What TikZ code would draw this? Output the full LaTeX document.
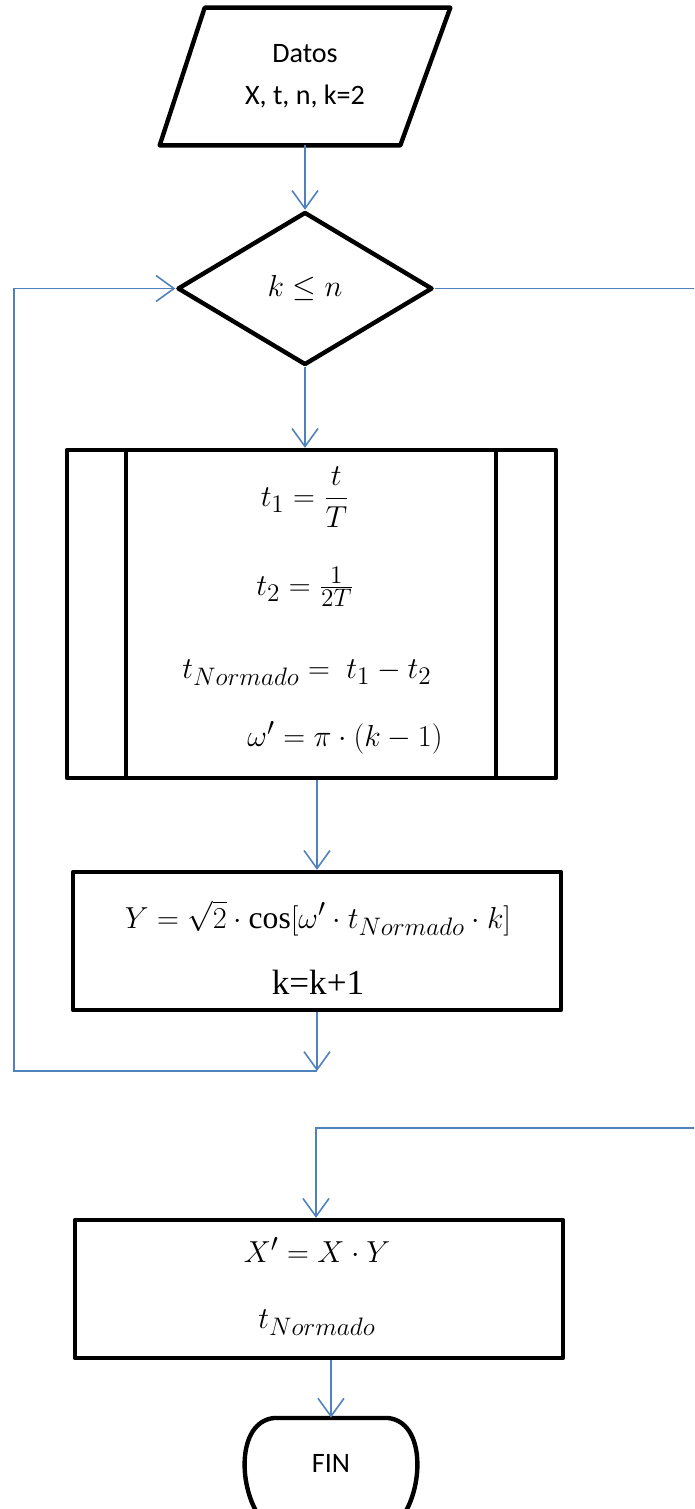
\documentclass[tikz,border=0pt]{standalone}
\usepackage{amsmath}
\usepackage[no-math]{fontspec}
\setmainfont{Liberation Serif}
\newfontfamily\calib{Carlito}
\DeclareMathSizes{18}{18}{14.5}{11}
\usetikzlibrary{shapes.geometric,arrows.meta,calc}
\definecolor{lineblue}{RGB}{79,129,189}
\begin{document}
\begin{tikzpicture}[x=0.02cm,y=-0.02cm,
  shapeline/.style={draw=black,line width=2.5pt,line join=round},
  conn/.style={draw=lineblue,line width=0.9pt},
  arr/.style={conn,-{Straight Barb[length=3.6mm,width=5.2mm,line width=0.9pt]}},
  mathtxt/.style={font=\fontsize{18}{22}\selectfont},
  plain/.style={font=\calib\fontsize{16}{19}\selectfont,align=center}]
\useasboundingbox (0,0) rectangle (694,1509);
\clip (0,0) rectangle (694,1509);
% input
\node[minimum width=5.8cm,minimum height=2.74cm,inner sep=0,plain] (in) at (305,76.5) {Datos\\[5pt]X, t, n, k=2};
\draw[shapeline] ($(in.north west)+(45,0)$) -- (in.north east) -- ($(in.south east)+(-50,0)$) -- (in.south west) -- cycle;
% decision
\node[diamond,shapeline,minimum width=5.1cm,minimum height=3.06cm,inner sep=0,mathtxt] (dec) at (305,288.5) {$k\le n$};
% predefined process
\node[shapeline,minimum width=9.78cm,minimum height=6.56cm] (proc) at (311.5,614) {};
\draw[shapeline] ($(proc.north west)+(61,0)$) -- ($(proc.south west)+(61,0)$);
\draw[shapeline] ($(proc.north east)+(-62,0)$) -- ($(proc.south east)+(-62,0)$);
\node[mathtxt] (t1) at (305,497) {$t_1=\dfrac{t}{T}$};
\node[mathtxt] (t2) at (305,587) {$t_2=\tfrac{1}{2T}$};
\node[mathtxt] (tn) at (307,673) {$t_{Normado}=\ t_1-t_2$};
\node[mathtxt] (om) at (345,738) {$\omega'=\pi\cdot(k-1)$};
% update box
\node[shapeline,minimum width=9.76cm,minimum height=2.76cm] (upd) at (317,941) {};
\node[mathtxt] (ytxt) at (318,918) {$Y=\sqrt{2}\cdot\mathop{\text{cos}}[\omega'\cdot t_{Normado}\cdot k]$};
\node[font=\fontsize{20}{24}\selectfont] (ktxt) at (318,982) {k=k+1};
% result box
\node[shapeline,minimum width=9.76cm,minimum height=2.76cm] (res) at (319,1289) {};
\node[mathtxt] (xtxt) at (317,1250) {$X'=X\cdot Y$};
\node[mathtxt] (tntxt) at (317,1323) {$t_{Normado}$};
% terminator
\node[minimum width=3.4cm,minimum height=1.8cm,inner sep=0,plain] (fin) at (331,1463) {FIN};
\draw[shapeline] (262,1520) .. controls (238,1490) and (236,1422) .. (274,1418) -- (388,1418) .. controls (426,1422) and (424,1490) .. (400,1520);
% connectors
\coordinate (loopE) at (317,1071);
\coordinate (loopW) at (14,1071);
\coordinate (exitA) at (700,288.5);
\coordinate (exitB) at (700,1128);
\coordinate (joinC) at (316,1128);
\draw[arr] (in.south) -- (dec.north);
\draw[arr] (dec.south) -- (dec.south |- proc.north);
\draw[arr] (upd.north |- proc.south) -- (upd.north);
\draw[arr] (upd.south) -- (loopE);
\draw[arr] (loopE) -- (loopW) |- (dec.west);
\draw[conn] (dec.east) -- (exitA);
\draw[arr] (exitB) -- (joinC) -- (joinC |- res.north);
\draw[arr] (res.south -| fin.north) -- (fin.north);
\end{tikzpicture}
\end{document}
